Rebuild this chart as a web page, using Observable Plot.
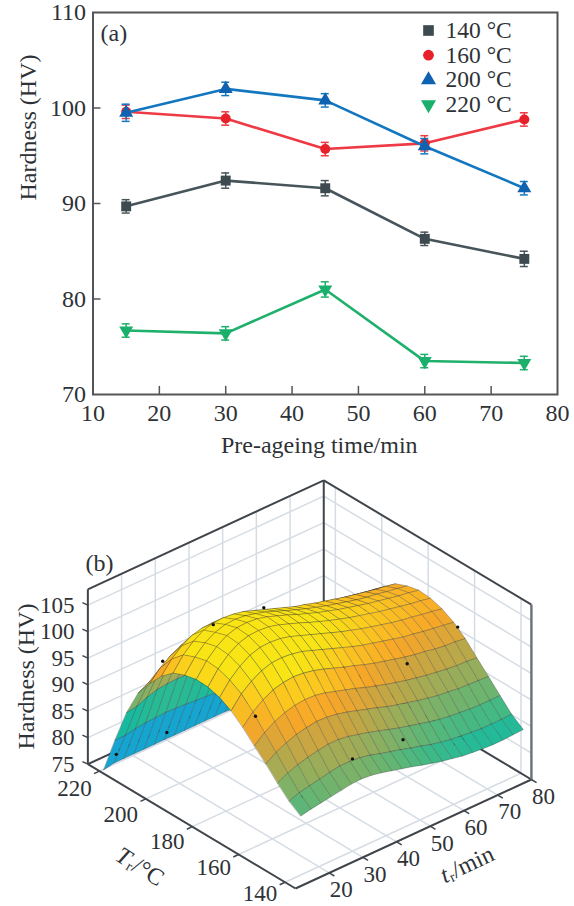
<!DOCTYPE html>
<html><head><meta charset="utf-8">
<style>html,body{margin:0;padding:0;background:#fff}svg{display:block}</style>
<script src="https://cdn.jsdelivr.net/npm/d3@7"></script>
<script src="https://cdn.jsdelivr.net/npm/@observablehq/plot@0.6"></script>
</head><body><div id="app"></div>
<script>
const times=[15,30,45,60,75];
const h140=[89.7,92.4,91.6,86.3,84.2];
const h160=[99.6,98.9,95.7,96.3,98.8];
const h200=[99.5,102,100.8,96,91.6];
const h220=[76.7,76.4,81,73.5,73.3];
const err140=[.7,.8,.8,.7,.8];
const err160=[.7,.7,.7,.8,.7];
const err200=[.9,.7,.7,.8,.7];
const err220=[.7,.7,.8,.7,.7];
const tempLabels=["140 °C","160 °C","200 °C","220 °C"];
const temps=[140,160,200,220];
const lineColors=["#47555a","#ee3a44","#1377c0","#1fb06c"];
const markColors=["#3d4a4f","#e8202a","#0f62b0","#1aaf6a"];
const symbols=["square","circle","triangle","triangle"];
const rotations=[0,0,0,180];
const xTicks=[10,20,30,40,50,60,70,80];
const yTicks=[70,80,90,100,110];

const surfTimes=[14,17,20,23,26,29,32,35,38,41,44,47,50,53,56,59,62,65,68,71,74,77,80];
const surfTemps=[139,144,149,154,159,164,169,174,179,184,189,194,199,204,209,214,219,224];
const surfHardness=[
[86.6,87.0,87.3,87.6,87.9,88.2,88.3,88.1,87.7,87.2,86.7,86.2,85.6,85.1,84.6,84.2,83.8,83.6,83.4,83.3,83.3,83.4,83.5],
[88.1,88.8,89.2,89.6,90.0,90.3,90.3,90.1,89.7,89.1,88.6,88.1,87.5,87.0,86.4,86.0,85.6,85.4,85.2,85.0,85.0,85.0,85.1],
[90.2,91.2,91.9,92.4,92.8,93.1,93.1,92.8,92.3,91.8,91.2,90.6,90.0,89.5,89.0,88.5,88.1,87.8,87.6,87.4,87.3,87.3,87.3],
[92.5,93.8,94.7,95.4,95.8,96.1,96.0,95.7,95.2,94.6,94.0,93.4,92.7,92.2,91.7,91.2,90.8,90.4,90.2,89.9,89.8,89.7,89.6],
[94.6,96.2,97.4,98.2,98.7,98.9,98.8,98.4,97.8,97.2,96.6,95.9,95.3,94.7,94.2,93.7,93.3,92.9,92.6,92.3,92.1,92.0,91.8],
[96.8,98.8,100.2,101.2,101.7,101.9,101.7,101.3,100.7,100.0,99.3,98.7,98.0,97.4,96.9,96.4,95.9,95.5,95.2,94.8,94.5,94.4,94.1],
[98.6,100.9,102.4,103.5,104.1,104.2,104.0,103.6,102.9,102.2,101.5,100.8,100.1,99.5,99.0,98.5,98.0,97.5,97.2,96.8,96.5,96.2,95.9],
[99.8,102.2,103.9,105.1,105.7,105.8,105.6,105.1,104.4,103.7,103.0,102.3,101.6,101.0,100.4,99.9,99.4,98.9,98.5,98.2,97.8,97.5,97.1],
[100.5,103.0,104.8,106.0,106.6,106.7,106.5,106.0,105.3,104.6,103.8,103.1,102.4,101.8,101.2,100.7,100.2,99.7,99.3,98.9,98.5,98.2,97.8],
[100.6,103.2,105.0,106.2,106.8,106.9,106.7,106.2,105.5,104.8,104.0,103.3,102.6,102.0,101.4,100.9,100.4,99.9,99.5,99.1,98.7,98.4,98.0],
[100.1,102.6,104.4,105.5,106.1,106.2,106.0,105.5,104.9,104.2,103.4,102.7,102.0,101.4,100.8,100.3,99.8,99.3,98.9,98.6,98.2,97.9,97.5],
[99.2,101.7,103.4,104.6,105.1,105.2,105.0,104.6,103.9,103.2,102.5,101.8,101.1,100.6,100.0,99.5,99.0,98.5,98.1,97.7,97.3,97.0,96.6],
[97.3,99.6,101.2,102.3,102.8,102.9,102.7,102.3,101.6,101.0,100.3,99.7,99.1,98.5,98.0,97.5,97.1,96.6,96.2,95.8,95.4,95.1,94.7],
[94.6,96.6,98.0,99.0,99.5,99.5,99.4,99.0,98.4,97.9,97.3,96.7,96.2,95.7,95.2,94.7,94.3,93.8,93.5,93.1,92.7,92.4,92.0],
[91.5,92.5,93.6,94.4,94.8,94.8,94.7,94.4,93.9,93.5,93.0,92.5,92.1,91.6,91.2,90.8,90.4,90.0,89.6,89.2,88.9,88.6,88.2],
[86.5,86.8,87.6,88.2,88.4,88.5,88.4,88.2,87.8,87.5,87.2,86.9,86.5,86.2,85.8,85.4,85.1,84.7,84.4,84.0,83.7,83.4,83.0],
[80.0,80.0,80.4,80.6,80.7,80.8,80.7,80.6,80.4,80.3,80.1,80.0,79.8,79.5,79.2,79.0,78.6,78.4,78.0,77.7,77.4,77.1,76.8],
[73.0,73.4,73.4,73.4,73.4,73.4,73.4,73.4,73.4,73.4,73.4,73.4,73.4,73.2,73.0,72.8,72.5,72.3,72.0,71.7,71.4,71.1,70.8]
];
const zTicks=[75,80,85,90,95,100,105];
const tTicks=[20,30,40,50,60,70,80];
const TTicks=[140,160,180,200,220];
const wallT=[20,30,40,50,60,70];
const wallTemp=[140,160,180,200,220];
const measuredOnTop=[[15,200],[30,200],[45,200],[15,220],[30,220],[15,160],[30,140],[45,140],[60,160],[75,160]];
const colorDomain=[73,78,83.5,87,91,94.5,97,100,103];
const colorRange=["#1a9ade","#14a8cc","#17bb9f","#52b87c","#98ad5a","#cfa53e","#f7a728","#fbc81f","#f9e415"];

const serif="'Liberation Serif','Times New Roman',serif", ink="#2e3236", fs=24, legendFs=23.5, fsB=23;

/* ---------- panel (a) ---------- */
const rows=[h140,h160,h200,h220].flatMap((h,s)=>h.map((v,i)=>({s,x:times[i],y:v,e:[err140,err160,err200,err220][s][i]})));
const marksA=[
  Plot.ruleX(xTicks.slice(1,-1),{x:d=>d,y1:70,y2:70.85,stroke:"#555",strokeWidth:1.5}),
  Plot.ruleY(yTicks.slice(1,-1),{y:d=>d,x1:10,x2:11.2,stroke:"#555",strokeWidth:1.5}),
  Plot.frame({stroke:"#555",strokeWidth:2}),
  Plot.axisX(xTicks,{anchor:"bottom",tickSize:0,tickPadding:9,label:null,fontSize:fs,fill:ink,lineAnchor:"top"}),
  Plot.axisY(yTicks,{anchor:"left",tickSize:0,tickPadding:7,label:null,fontSize:fs,fill:ink}),
  Plot.text(["Hardness (HV)"],{frameAnchor:"left",dx:-65,dy:-3,rotate:-90,fontSize:fs,fill:ink}),
  Plot.text(["Pre-ageing time/min"],{frameAnchor:"bottom",dy:51,dx:-6,lineAnchor:"middle",fontSize:fs,fill:ink}),
  Plot.text(["(a)"],{frameAnchor:"top-left",dx:7.5,dy:21,lineAnchor:"middle",fontSize:fs,fill:ink})
];
const dotR=[5.6,5,5.2,5.2];
temps.forEach((T,s)=>{
  const d=rows.filter(r=>r.s===s);
  marksA.push(
    Plot.line(d,{x:"x",y:"y",stroke:lineColors[s],strokeWidth:2.6}),
    Plot.ruleX(d,{x:"x",y1:r=>r.y-r.e,y2:r=>r.y+r.e,stroke:lineColors[s],strokeWidth:1.5}),
    Plot.ruleY(d,{y:r=>r.y-r.e,x1:r=>r.x-.6,x2:r=>r.x+.6,stroke:lineColors[s],strokeWidth:1.5}),
    Plot.ruleY(d,{y:r=>r.y+r.e,x1:r=>r.x-.6,x2:r=>r.x+.6,stroke:lineColors[s],strokeWidth:1.5}),
    Plot.dot(d,{x:"x",y:"y",symbol:()=>symbols[s],rotate:rotations[s],r:dotR[s],fill:markColors[s],stroke:"none"}),
    Plot.dot([tempLabels[s]],{frameAnchor:"top-left",dx:335.5,dy:18+s*24.7,symbol:()=>symbols[s],rotate:rotations[s],r:dotR[s]+.4,fill:markColors[s],stroke:"none"}),
    Plot.text([tempLabels[s]],{frameAnchor:"top-left",dx:352.5,dy:18+s*24.7,lineAnchor:"middle",textAnchor:"start",fontSize:legendFs,fill:ink})
  );
});
const plotA=Plot.plot({width:574,height:460,marginLeft:92.5,marginRight:17,marginTop:12,marginBottom:66,
  style:{fontFamily:serif,background:"#fff",overflow:"visible"},
  x:{domain:[10,80],axis:null},y:{domain:[70,110],axis:null},marks:marksA});

/* ---------- panel (b) ---------- */
const px=(t,T)=>295+3.37*(t-10)-2.32*(T-135.5);
const py=(t,T,z)=>888-1.557*(t-10)-1.389*(T-135.5)-5.3*(z-75);
const tMin=10,tMax=80,TMin=135.5,TMax=225,zMin=75,zMax=108;
const seg=(a,b)=>({x1:px(a[0],a[1]),y1:py(a[0],a[1],a[2]),x2:px(b[0],b[1]),y2:py(b[0],b[1],b[2])});
const gridSegs=[
  ...wallT.map(t=>seg([t,TMax,zMin],[t,TMax,zMax])),
  ...zTicks.map(z=>seg([tMin,TMax,z],[tMax,TMax,z])),
  ...wallTemp.map(T=>seg([tMax,T,zMin],[tMax,T,zMax])),
  ...zTicks.map(z=>seg([tMax,TMin,z],[tMax,TMax,z])),
  ...wallT.map(t=>seg([t,TMin,zMin],[t,TMax,zMin])),
  ...wallTemp.map(T=>seg([tMin,T,zMin],[tMax,T,zMin]))
];
const backEdges=[
  seg([tMin,TMax,zMin],[tMax,TMax,zMin]),seg([tMax,TMin,zMin],[tMax,TMax,zMin]),
  seg([tMax,TMax,zMin],[tMax,TMax,zMax]),seg([tMin,TMax,zMax],[tMax,TMax,zMax]),
  seg([tMax,TMin,zMax],[tMax,TMax,zMax]),seg([tMin,TMax,zMin],[tMin,TMax,zMax]),
  seg([tMin,TMin,zMin],[tMin,TMax,zMin]),seg([tMin,TMin,zMin],[tMax,TMin,zMin])
];
const sideEdge=[seg([tMax,TMin,zMin],[tMax,TMin,zMax])];
const tickLen=6;
const axisTicks=[
  ...TTicks.map(T=>({x1:px(tMin,T),y1:py(tMin,T,zMin),x2:px(tMin,T)-tickLen*.9,y2:py(tMin,T,zMin)+tickLen*.42})),
  ...tTicks.map(t=>({x1:px(t,TMin),y1:py(t,TMin,zMin),x2:px(t,TMin)+tickLen*.86,y2:py(t,TMin,zMin)+tickLen*.51})),
  ...zTicks.map(z=>({x1:px(tMin,TMax),y1:py(tMin,TMax,z),x2:px(tMin,TMax)-tickLen*.9,y2:py(tMin,TMax,z)-tickLen*.42}))
];
const cells=[];
let id=0;
for(let i=surfTimes.length-2;i>=0;i--){
  for(let j=surfTemps.length-2;j>=0;j--){
    const c=[[i,j],[i+1,j],[i+1,j+1],[i,j+1]];
    const zs=c.map(([a,b])=>surfHardness[b][a]);
    const m=d3.mean(zs);
    c.forEach(([a,b],k)=>cells.push({id,m,t:surfTimes[a],T:surfTemps[b],z:zs[k]}));
    id++;
  }
}
const allDots=temps.flatMap((T,s)=>times.map((t,i)=>({t,T,z:[h140,h160,h200,h220][s][i]})));
const isTop=d=>measuredOnTop.some(([t,T])=>t===d.t&&T===d.T);
const plotB=Plot.plot({width:574,height:446,margin:0,
  style:{fontFamily:serif,background:"#fff",overflow:"visible"},
  x:{domain:[0,574],range:[0,574],axis:null},y:{domain:[460,906],range:[0,446],axis:null},
  color:{type:"linear",domain:colorDomain,range:colorRange,clamp:true},
  marks:[
    Plot.link(gridSegs,{x1:"x1",y1:"y1",x2:"x2",y2:"y2",stroke:"#d6dce4",strokeWidth:1.5}),
    Plot.link(backEdges,{x1:"x1",y1:"y1",x2:"x2",y2:"y2",stroke:"#3f454b",strokeWidth:2}),
    Plot.link(sideEdge,{x1:"x1",y1:"y1",x2:"x2",y2:"y2",stroke:"#6a7078",strokeWidth:2.4}),
    Plot.link(axisTicks,{x1:"x1",y1:"y1",x2:"x2",y2:"y2",stroke:"#3f454b",strokeWidth:1.5}),
    Plot.dot(allDots.filter(d=>!isTop(d)),{x:d=>px(d.t,d.T),y:d=>py(d.t,d.T,d.z),r:1.5,fill:"#111"}),
    Plot.line(cells,{x:d=>px(d.t,d.T),y:d=>py(d.t,d.T,d.z),z:"id",fill:"m",curve:"linear-closed",stroke:"#2a2a2a",strokeWidth:.6,strokeOpacity:.5}),
    Plot.dot(allDots.filter(isTop),{x:d=>px(d.t,d.T),y:d=>py(d.t,d.T,d.z),r:1.7,fill:"#111"}),
    Plot.text(zTicks,{x:()=>74,y:z=>py(tMin,TMax,z),text:d=>String(d),textAnchor:"end",fontSize:fsB,fill:ink}),
    Plot.text(TTicks,{x:T=>px(tMin,T)-25,y:T=>py(tMin,T,zMin)+17.5-(220-T)*.075,text:d=>String(d),fontSize:fsB,fill:ink}),
    Plot.text(tTicks,{x:t=>px(t,TMin)+12,y:t=>py(t,TMin,zMin)+17,text:d=>String(d),fontSize:fsB,fill:ink}),
    Plot.text(["Hardness (HV)"],{x:()=>26,y:()=>676,rotate:-90,fontSize:fs,fill:ink}),
    Plot.text(["(b)"],{x:()=>99,y:()=>563,fontSize:fs,fill:ink}),
    Plot.text(["T"],{x:()=>117.5,y:()=>852.5,rotate:32,textAnchor:"start",fontSize:fs,fontStyle:"italic",fill:ink}),
    Plot.text(["ᵣ/°C"],{x:()=>129.4,y:()=>860,rotate:32,textAnchor:"start",fontSize:fs,fill:ink}),
    Plot.text(["t"],{x:()=>441,y:()=>876,rotate:-25,textAnchor:"start",fontSize:fs,fontStyle:"italic",fill:ink}),
    Plot.text(["ᵣ/min"],{x:()=>447.3,y:()=>873,rotate:-25,textAnchor:"start",fontSize:fs,fill:ink})
  ]});
const app=document.getElementById("app");
app.append(plotA,plotB);
</script></body></html>
